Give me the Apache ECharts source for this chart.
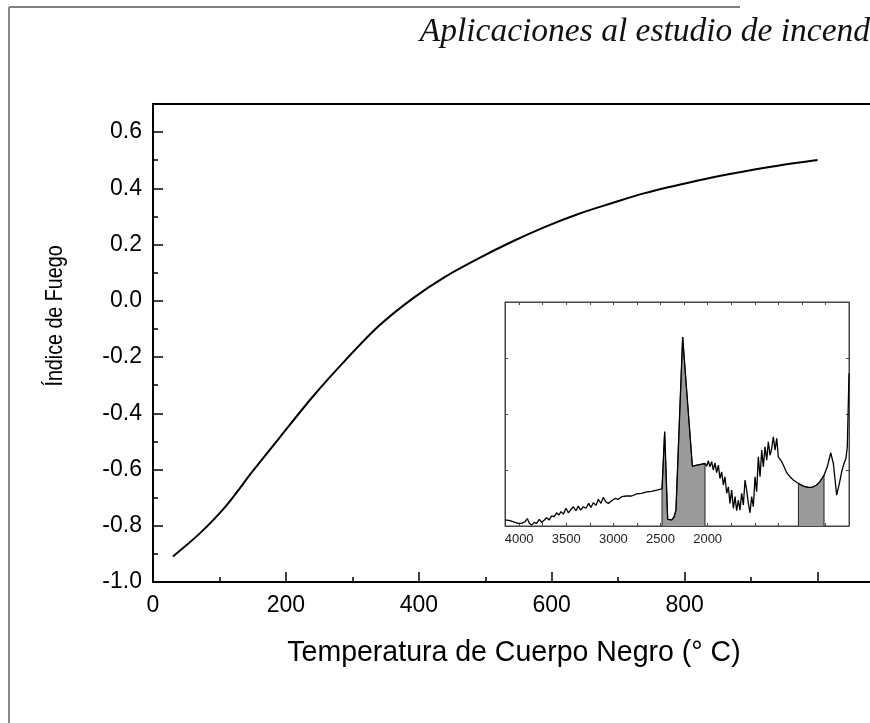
<!DOCTYPE html>
<html>
<head>
<meta charset="utf-8">
<script src="https://cdn.jsdelivr.net/npm/echarts@6/dist/echarts.min.js"></script>
<style>
html,body{margin:0;padding:0;background:#fff;}
#chart{width:870px;height:723px;}
</style>
</head>
<body>
<div id="chart"></div>
<script>
// ---- Main curve: blackbody temperature (°C) vs fire index ----
const temps = [30, 70, 110, 150, 190, 240, 290, 340, 390, 440, 490, 540, 590, 640, 690, 740, 820, 870, 935, 1000];
const fireIndex = [-0.909, -0.828, -0.729, -0.606, -0.488, -0.342, -0.210, -0.089, 0.007, 0.086, 0.151, 0.210, 0.263, 0.309, 0.347, 0.383, 0.428, 0.452, 0.479, 0.501];
const xTickLabels = [0, 200, 400, 600, 800];

// ---- Inset spectrum: wavenumber (cm-1) vs relative signal ----
const wavenumbers = [4150, 4097, 4044, 4009, 3973, 3938, 3913, 3892, 3867, 3839, 3814, 3786, 3761, 3733, 3708, 3680, 3655, 3627, 3602, 3577, 3556, 3531, 3503, 3478, 3450, 3425, 3397, 3372, 3347, 3319, 3291, 3262, 3237, 3213, 3184, 3160, 3131, 3107, 3082, 3054, 3018, 2983, 2947, 2912, 2859, 2806, 2753, 2700, 2647, 2594, 2541, 2484, 2456, 2424, 2382, 2357, 2336, 2265, 2162, 2099, 2028, 2010, 1992, 1975, 1957, 1940, 1922, 1904, 1886, 1869, 1851, 1833, 1816, 1798, 1780, 1763, 1745, 1727, 1709, 1692, 1674, 1657, 1639, 1621, 1603, 1586, 1568, 1550, 1533, 1515, 1497, 1480, 1462, 1444, 1426, 1409, 1391, 1373, 1356, 1338, 1320, 1303, 1285, 1267, 1250, 1232, 1214, 1197, 1161, 1126, 1091, 1037, 984, 931, 896, 843, 808, 765, 730, 694, 666, 631, 602, 578, 553, 532, 518, 500];
const signal = [2.7, 2.4, 1.6, 1.2, 1.2, 1.9, 3.3, 1.2, 0.4, 1.6, 1.2, 3.0, 1.6, 2.7, 3.7, 2.7, 4.5, 4.2, 5.9, 4.9, 6.4, 5.3, 7.9, 5.9, 7.4, 8.6, 6.8, 8.9, 7.1, 8.6, 7.9, 10.1, 8.3, 10.4, 9.2, 11.9, 10.1, 12.8, 10.8, 10.1, 11.3, 12.3, 11.9, 13.1, 13.4, 13.4, 14.3, 14.6, 15.2, 15.5, 16.0, 16.6, 42.1, 3.0, 2.7, 3.9, 7.1, 84.4, 26.7, 27.3, 27.9, 26.7, 29.1, 26.4, 28.7, 25.0, 28.2, 23.8, 27.2, 21.2, 24.2, 18.3, 22.0, 14.6, 17.5, 10.1, 16.0, 7.9, 13.1, 6.8, 11.6, 7.1, 14.6, 9.4, 20.5, 16.0, 10.1, 5.9, 13.1, 8.6, 22.0, 15.3, 30.9, 22.0, 33.9, 26.4, 35.4, 29.4, 37.6, 31.6, 34.6, 39.8, 33.9, 39.1, 30.9, 31.6, 28.7, 27.2, 23.8, 22.0, 20.5, 19.0, 17.8, 17.2, 17.2, 18.3, 19.8, 22.7, 26.4, 32.7, 27.9, 13.8, 19.0, 24.2, 27.9, 30.2, 35.4, 68.1];
const insetTickLabels = [4000, 3500, 3000, 2500, 2000];
const shadedBands = [[2028, 2484], [765, 1037]];

const titleText = 'Aplicaciones al estudio de incend';
const xName = 'Temperatura de Cuerpo Negro (° C)';
const yName = 'Índice de Fuego';

const mainData = temps.map((t, i) => [t, fireIndex[i]]);
const specData = wavenumbers.map((w, i) => [w, signal[i]]);
function band(lo, hi) {
  const pts = specData.filter(p => p[0] >= lo && p[0] <= hi);
  const first = pts[0], last = pts[pts.length - 1];
  return [[first[0], 0]].concat(pts).concat([[last[0], 0]]);
}

const SANS = '"Liberation Sans", Arial, sans-serif';
const chart = echarts.init(document.getElementById('chart'), null, {renderer: 'canvas'});

const option = {
  animation: false,
  backgroundColor: '#fff',
  graphic: [
    {type: 'line', shape: {x1: 9, y1: 7, x2: 740, y2: 7}, style: {stroke: '#555', lineWidth: 1.5}, silent: true},
    {type: 'line', shape: {x1: 9, y1: 7, x2: 9, y2: 723}, style: {stroke: '#888', lineWidth: 2}, silent: true},
    {type: 'text', x: 870, y: 15, style: {text: titleText, align: 'right', verticalAlign: 'top',
      font: 'italic 33.5px "Liberation Serif", "Times New Roman", serif', fill: '#111'}, silent: true},
    {type: 'text', x: 55, y: 316, rotation: Math.PI / 2, scaleX: 0.82, scaleY: 1,
      style: {text: yName, align: 'center', verticalAlign: 'middle', font: '24px ' + SANS, fill: '#000'}, silent: true},
    {type: 'text', x: 514, y: 653, scaleX: 0.95, scaleY: 1,
      style: {text: xName, align: 'center', verticalAlign: 'middle', font: '30px ' + SANS, fill: '#000'}, silent: true}
  ],
  grid: [
    {left: 153, top: 104, width: 731, height: 478, show: true, borderColor: '#000', borderWidth: 2,
      containLabel: false, outerBoundsMode: 'none'},
    {left: 505, top: 302, width: 344, height: 224, show: true, borderColor: '#444', borderWidth: 1,
      containLabel: false, outerBoundsMode: 'none'}
  ],
  xAxis: [
    {
      gridIndex: 0, type: 'value', min: 0, max: 1100, interval: 200,
      axisLine: {show: true, onZero: false, lineStyle: {color: '#000', width: 2}},
      axisTick: {show: true, inside: true, length: 10, lineStyle: {color: '#000', width: 1.5}},
      minorTick: {show: true, splitNumber: 2, length: 5, lineStyle: {color: '#000', width: 1.5}},
      splitLine: {show: false},
      axisLabel: {fontFamily: SANS, fontSize: 23, color: '#000', margin: 12,
        formatter: v => xTickLabels.indexOf(Math.round(v)) >= 0 ? String(Math.round(v)) : ''}
    },
    {
      gridIndex: 1, type: 'value', inverse: true, min: 500, max: 4150, interval: 500,
      axisLine: {show: true, onZero: false, lineStyle: {color: '#444', width: 1}},
      axisTick: {show: true, inside: true, length: 3, lineStyle: {color: '#444', width: 1}},
      minorTick: {show: true, splitNumber: 2, length: 3, lineStyle: {color: '#444', width: 1}},
      splitLine: {show: false},
      axisLabel: {fontFamily: SANS, fontSize: 13, color: '#222', margin: 7, showMaxLabel: false,
        formatter: v => insetTickLabels.indexOf(Math.round(v)) >= 0 ? String(Math.round(v)) : ''}
    },
    {
      gridIndex: 1, type: 'value', inverse: true, min: 500, max: 4150, interval: 500, position: 'top',
      axisLine: {show: true, onZero: false, lineStyle: {color: '#444', width: 1}},
      axisTick: {show: true, inside: true, length: 3, lineStyle: {color: '#444', width: 1}},
      minorTick: {show: true, splitNumber: 2, length: 3, lineStyle: {color: '#444', width: 1}},
      splitLine: {show: false}, axisLabel: {show: false}
    }
  ],
  yAxis: [
    {
      gridIndex: 0, type: 'value', min: -1.0, max: 0.7, interval: 0.2,
      axisLine: {show: true, onZero: false, lineStyle: {color: '#000', width: 2}},
      axisTick: {show: true, inside: true, length: 10, lineStyle: {color: '#000', width: 1.5}},
      minorTick: {show: true, splitNumber: 2, length: 5, lineStyle: {color: '#000', width: 1.5}},
      splitLine: {show: false},
      axisLabel: {fontFamily: SANS, fontSize: 23, color: '#000', margin: 11, showMaxLabel: false,
        formatter: v => (Math.abs(v) < 1e-9 ? 0 : v).toFixed(1)}
    },
    {
      gridIndex: 1, type: 'value', min: 0, max: 100, interval: 25,
      axisLine: {show: true, onZero: false, lineStyle: {color: '#444', width: 1}},
      axisTick: {show: true, inside: true, length: 3, lineStyle: {color: '#444', width: 1}},
      splitLine: {show: false}, axisLabel: {show: false}
    },
    {
      gridIndex: 1, type: 'value', min: 0, max: 100, interval: 25, position: 'right',
      axisLine: {show: true, onZero: false, lineStyle: {color: '#444', width: 1}},
      axisTick: {show: true, inside: true, length: 3, lineStyle: {color: '#444', width: 1}},
      splitLine: {show: false}, axisLabel: {show: false}
    }
  ],
  series: [
    {
      type: 'line', xAxisIndex: 0, yAxisIndex: 0, data: mainData, smooth: 0.3,
      showSymbol: false, lineStyle: {color: '#000', width: 2}, z: 3
    },
    {
      type: 'line', xAxisIndex: 1, yAxisIndex: 1, data: band(shadedBands[0][0], shadedBands[0][1]),
      showSymbol: false, lineStyle: {color: '#222', width: 1},
      areaStyle: {color: '#9a9a9a', opacity: 1, origin: 'start'}, z: 2
    },
    {
      type: 'line', xAxisIndex: 1, yAxisIndex: 1, data: band(shadedBands[1][0], shadedBands[1][1]),
      showSymbol: false, lineStyle: {color: '#222', width: 1},
      areaStyle: {color: '#9a9a9a', opacity: 1, origin: 'start'}, z: 2
    },
    {
      type: 'line', xAxisIndex: 1, yAxisIndex: 1, data: specData,
      showSymbol: false, lineStyle: {color: '#000', width: 1.3}, z: 4
    }
  ]
};
chart.setOption(option);
</script>
</body>
</html>
